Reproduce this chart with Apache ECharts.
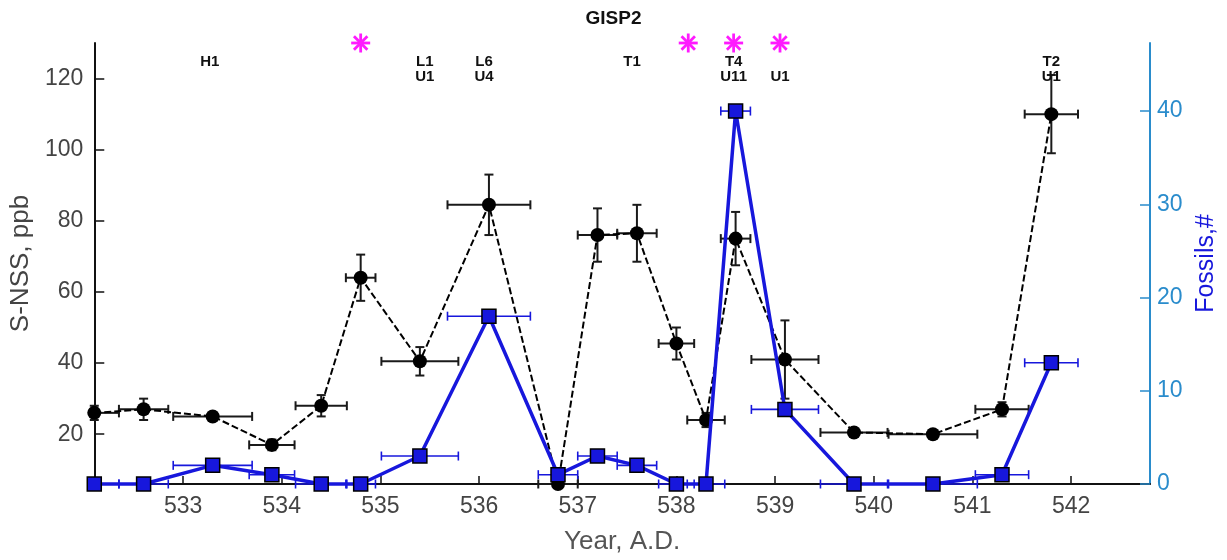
<!DOCTYPE html>
<html>
<head>
<meta charset="utf-8">
<script src="https://cdn.jsdelivr.net/npm/echarts@6/dist/echarts.min.js"></script>
<style>
  body { margin: 0; padding: 0; background: #fff; }
  #main { width: 1227px; height: 560px; }
</style>
</head>
<body>
<div id="main"></div>
<script>
// sample years (A.D.) and horizontal dating error
const years = [532.1, 532.6, 533.3, 533.9, 534.4, 534.8, 535.4, 536.1, 536.8, 537.2, 537.6, 538.0, 538.3, 538.6, 539.1, 539.8, 540.6, 541.3, 541.8]
const yearErr = [0.25, 0.25, 0.4, 0.23, 0.26, 0.15, 0.39, 0.42, 0.2, 0.2, 0.2, 0.18, 0.19, 0.15, 0.34, 0.34, 0.45, 0.27, 0.27]
// S-NSS, ppb
const sulfate = [26, 27, 25, 17, 28, 64, 40.5, 84.5, 6, 76, 76.5, 45.5, 24, 75, 41, 20.5, 20, 27, 110]
const sulfateErr = [2, 3, 1, 1.5, 3, 6.5, 4, 8.5, 0, 7.5, 8, 4.5, 2, 7.5, 11, 1, 1, 2, 11]
// fossils count
const fossils = [0, 0, 2, 1, 0, 0, 3, 18, 1, 3, 2, 0, 0, 40, 8, 0, 0, 1, 13]

// tick labels
const xTicks = [533, 534, 535, 536, 537, 538, 539, 540, 541, 542]
const leftTicks = [20, 40, 60, 80, 100, 120]
const rightTicks = [0, 10, 20, 30, 40]

// annotations on top
const starYears = [534.8, 538.12, 538.58, 539.05]
const annoTopX = [533.27, 535.45, 536.05, 537.55, 538.58, 541.8]
const annoTopText = ['H1', 'L1', 'L6', 'T1', 'T4', 'T2']
const annoBotX = [535.45, 536.05, 538.58, 539.05, 541.8]
const annoBotText = ['U1', 'U4', 'U11', 'U1', 'U1']

const FONT = 'Liberation Sans, Arial, Helvetica, sans-serif'
const BLUE = '#1717dc'
const AXBLUE = '#2a8ccc'

const chart = echarts.init(document.getElementById('main'))

function errRender (color, width, withY) {
  return function (params, api) {
    const x = api.value(0)
    const y = api.value(1)
    const ex = api.value(2)
    const ey = api.value(3)
    const cs = params.coordSys
    const l = api.coord([x - ex, y])
    const r = api.coord([x + ex, y])
    const cap = 4.5
    const st = { stroke: color, lineWidth: width }
    const kids = []
    let lx = l[0]
    if (lx < cs.x) {
      lx = cs.x
    } else {
      kids.push({ type: 'line', shape: { x1: lx, y1: l[1] - cap, x2: lx, y2: l[1] + cap }, style: st })
    }
    kids.push(
      { type: 'line', shape: { x1: lx, y1: l[1], x2: r[0], y2: r[1] }, style: st },
      { type: 'line', shape: { x1: r[0], y1: r[1] - cap, x2: r[0], y2: r[1] + cap }, style: st }
    )
    if (withY && ey > 0) {
      const t = api.coord([x, y + ey])
      const b = api.coord([x, y - ey])
      kids.push(
        { type: 'line', shape: { x1: t[0], y1: t[1], x2: b[0], y2: b[1] }, style: st },
        { type: 'line', shape: { x1: t[0] - cap, y1: t[1], x2: t[0] + cap, y2: t[1] }, style: st },
        { type: 'line', shape: { x1: b[0] - cap, y1: b[1], x2: b[0] + cap, y2: b[1] }, style: st }
      )
    }
    return { type: 'group', children: kids }
  }
}

function starRender (params, api) {
  const c = api.coord([api.value(0), api.value(1)])
  const s = 9.5
  const d = s * 0.7071
  const st = { stroke: '#ff1aff', lineWidth: 2.8 }
  return {
    type: 'group',
    children: [
      { type: 'line', shape: { x1: c[0] - s, y1: c[1], x2: c[0] + s, y2: c[1] }, style: st },
      { type: 'line', shape: { x1: c[0], y1: c[1] - s, x2: c[0], y2: c[1] + s }, style: st },
      { type: 'line', shape: { x1: c[0] - d, y1: c[1] - d, x2: c[0] + d, y2: c[1] + d }, style: st },
      { type: 'line', shape: { x1: c[0] - d, y1: c[1] + d, x2: c[0] + d, y2: c[1] - d }, style: st }
    ]
  }
}

function textRender (params, api) {
  const c = api.coord([api.value(0), api.value(1)])
  return {
    type: 'text',
    x: c[0],
    y: c[1],
    style: {
      text: api.value(2),
      fill: '#111',
      font: 'bold 15px ' + FONT,
      align: 'center',
      verticalAlign: 'middle'
    }
  }
}

const option = {
  animation: false,
  backgroundColor: '#fff',
  title: {
    text: 'GISP2',
    left: 'center',
    top: 4,
    textStyle: { fontFamily: FONT, fontSize: 19, fontWeight: 'bold', color: '#111' }
  },
  grid: { left: 93, right: 72, top: 43, bottom: 71, containLabel: false },
  xAxis: {
    type: 'value',
    min: 532.1,
    max: 542.8,
    name: 'Year, A.D.',
    nameLocation: 'middle',
    nameGap: 45,
    nameTextStyle: { fontFamily: FONT, fontSize: 26, color: '#555' },
    axisLine: { lineStyle: { color: '#111', width: 2 } },
    axisTick: { inside: true, length: 8, lineStyle: { color: '#111', width: 1.5 }, customValues: xTicks },
    axisLabel: { customValues: xTicks, margin: 11, fontFamily: FONT, fontSize: 23, color: '#444' },
    splitLine: { show: false }
  },
  yAxis: [
    {
      type: 'value',
      min: 6,
      max: 130,
      position: 'left',
      name: 'S-NSS, ppb',
      nameLocation: 'middle',
      nameRotate: 90,
      nameGap: 56,
      nameTextStyle: { fontFamily: FONT, fontSize: 26, color: '#444' },
      axisLine: { show: true, lineStyle: { color: '#111', width: 2 } },
      axisTick: { inside: true, length: 10, lineStyle: { color: '#111', width: 1.5 }, customValues: leftTicks },
      axisLabel: { customValues: leftTicks, margin: 11, fontFamily: FONT, fontSize: 23, color: '#444' },
      splitLine: { show: false }
    },
    {
      type: 'value',
      min: 0,
      max: 47.3,
      position: 'right',
      name: 'Fossils,#',
      nameLocation: 'middle',
      nameRotate: 90,
      nameGap: 44,
      nameTextStyle: { fontFamily: FONT, fontSize: 25, color: BLUE },
      axisLine: { show: true, lineStyle: { color: AXBLUE, width: 2 } },
      axisTick: { inside: true, length: 10, lineStyle: { color: AXBLUE, width: 1.5 }, customValues: rightTicks },
      axisLabel: { customValues: rightTicks, margin: 7, fontFamily: FONT, fontSize: 23, color: AXBLUE },
      splitLine: { show: false }
    }
  ],
  series: [
    {
      type: 'custom',
      name: 'S-NSS err',
      yAxisIndex: 0,
      clip: false,
      renderItem: errRender('#1a1a1a', 2, true),
      data: years.map((x, i) => [x, sulfate[i], yearErr[i], sulfateErr[i]]),
      z: 2
    },
    {
      type: 'line',
      name: 'S-NSS',
      yAxisIndex: 0,
      data: years.map((x, i) => [x, sulfate[i]]),
      lineStyle: { color: '#000', width: 2, type: [7, 3] },
      itemStyle: { color: '#000' },
      symbol: 'circle',
      symbolSize: 14,
      clip: false,
      z: 3
    },
    {
      type: 'custom',
      name: 'Fossils err',
      yAxisIndex: 1,
      clip: false,
      renderItem: errRender(BLUE, 1.6, false),
      data: years.map((x, i) => [x, fossils[i], yearErr[i], 0]),
      z: 4
    },
    {
      type: 'line',
      name: 'Fossils',
      yAxisIndex: 1,
      data: years.map((x, i) => [x, fossils[i]]),
      lineStyle: { color: BLUE, width: 3.5 },
      itemStyle: { color: BLUE, borderColor: '#000', borderWidth: 1.5 },
      symbol: 'rect',
      symbolSize: 14,
      clip: false,
      z: 5
    },
    {
      type: 'custom',
      name: 'stars',
      yAxisIndex: 0,
      clip: false,
      renderItem: starRender,
      data: starYears.map(x => [x, 130]),
      z: 6
    },
    {
      type: 'custom',
      name: 'labels top',
      yAxisIndex: 0,
      clip: false,
      renderItem: textRender,
      data: annoTopX.map((x, i) => [x, 124.7, annoTopText[i]]),
      z: 6
    },
    {
      type: 'custom',
      name: 'labels bottom',
      yAxisIndex: 0,
      clip: false,
      renderItem: textRender,
      data: annoBotX.map((x, i) => [x, 120.4, annoBotText[i]]),
      z: 6
    }
  ]
}

chart.setOption(option)
</script>
</body>
</html>
